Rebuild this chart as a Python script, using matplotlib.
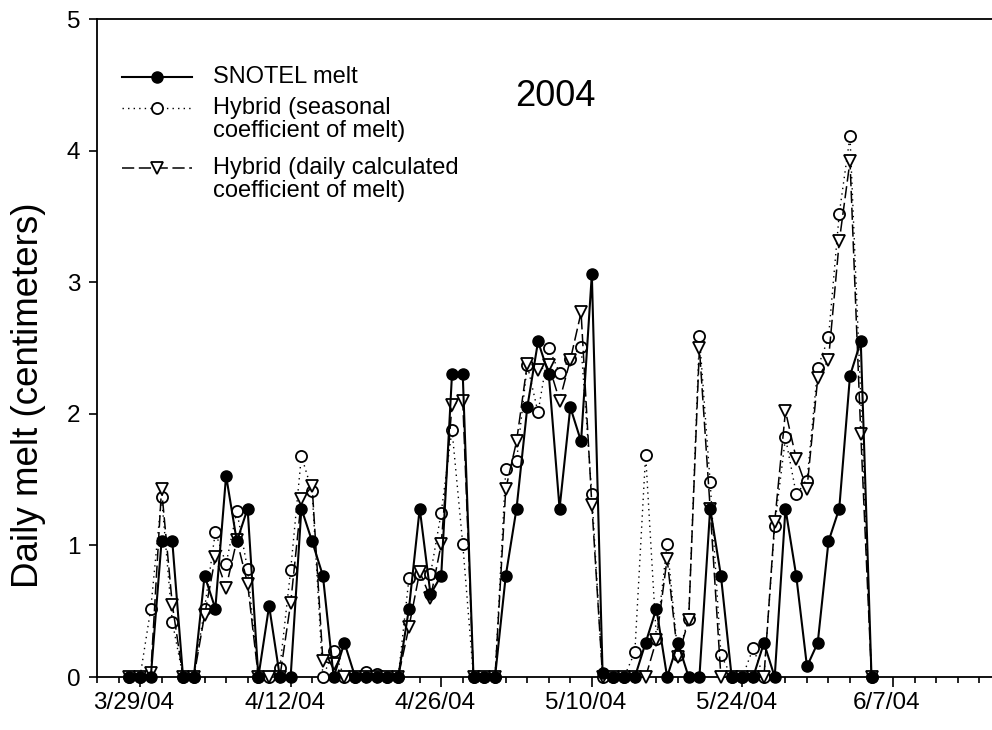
import matplotlib
matplotlib.use('Agg')
import matplotlib.pyplot as plt
import matplotlib.dates as mdates
import matplotlib.transforms as mtransforms
import numpy as np
from matplotlib.lines import Line2D

plt.rcParams['font.family'] = ['Liberation Sans', 'DejaVu Sans']

# ---------------- data (daily values, starting 3/28/04) ----------------
start_date = '2004-03-28'
snotel = [0, 0, 0, 1.03, 1.03, 0, 0, 0.77, 0.52, 1.53,
          1.03, 1.28, 0, 0.54, 0, 0, 1.28, 1.03, 0.77, 0,
          0.26, 0, 0, 0, 0, 0, 0.52, 1.28, 0.63, 0.77,
          2.30, 2.30, 0, 0, 0, 0.77, 1.28, 2.05, 2.55, 2.30,
          1.28, 2.05, 1.79, 3.06, 0.03, 0, 0, 0, 0.26, 0.52,
          0, 0.26, 0, 0, 1.28, 0.77, 0, 0, 0, 0.26,
          0, 1.28, 0.77, 0.08, 0.26, 1.03, 1.28, 2.29, 2.55, 0]
seasonal = [0, 0, 0.52, 1.37, 0.42, 0, 0, 0.52, 1.10, 0.86,
            1.26, 0.82, 0, 0, 0.07, 0.81, 1.68, 1.41, 0, 0.20,
            0, 0, 0.04, 0.02, 0, 0, 0.75, 0.78, 0.78, 1.25,
            1.88, 1.01, 0, 0, 0, 1.58, 1.64, 2.37, 2.01, 2.50,
            2.31, 2.42, 2.51, 1.39, 0, 0, 0, 0.19, 1.69, 0.29,
            1.01, 0.17, 0.44, 2.59, 1.48, 0.17, 0, 0, 0.22, 0,
            1.15, 1.82, 1.39, 1.49, 2.35, 2.58, 3.52, 4.11, 2.13, 0]
daily = [0, 0, 0.03, 1.43, 0.55, 0, 0, 0.47, 0.91, 0.68,
         1.04, 0.71, 0, 0, 0, 0.56, 1.35, 1.45, 0.12, 0.10,
         0, 0, 0, 0, 0, 0, 0.38, 0.80, 0.60, 1.01,
         2.07, 2.10, 0, 0, 0, 1.43, 1.79, 2.38, 2.33, 2.37,
         2.10, 2.41, 2.77, 1.31, 0, 0, 0, 0, 0, 0.28,
         0.90, 0.15, 0.43, 2.50, 1.28, 0, 0, 0, 0, 0,
         1.18, 2.02, 1.66, 1.43, 2.27, 2.41, 3.31, 3.92, 1.85, 0]

tick_dates = ['2004-03-29', '2004-04-12', '2004-04-26', '2004-05-10', '2004-05-24', '2004-06-07']
tick_labels = ['3/29/04', '4/12/04', '4/26/04', '5/10/04', '5/24/04', '6/7/04']
y_ticks = [0, 1, 2, 3, 4, 5]

series_labels = [['SNOTEL melt'],
                 ['Hybrid (seasonal', 'coefficient of melt)'],
                 ['Hybrid (daily calculated', 'coefficient of melt)']]
year_label = '2004'

dates = np.datetime64(start_date) + np.arange(len(snotel))

# ---------------- figure ----------------
W, H = 992, 730
fig = plt.figure(figsize=(W / 100, H / 100), dpi=100)
ax_l, ax_r, ax_t, ax_b = 97, 992, 19, 677
ax = fig.add_axes([ax_l / W, (H - ax_b) / H, (ax_r - ax_l) / W, (ax_b - ax_t) / H])

style_s = dict(color='black', lw=1.5, linestyle='-', marker='o', ms=8.0,
               mfc='black', mec='black', mew=1.0)
style_c = dict(color='black', lw=1.0, linestyle=(0, (1, 3)), marker='o', ms=8.0,
               mfc='white', mec='black', mew=1.3)
style_t = dict(color='black', lw=1.1, linestyle=(0, (8, 3)), marker='v', ms=8.7,
               mfc='white', mec='black', mew=1.3)

ax.plot(dates, seasonal, zorder=3, clip_on=False, **style_c)
ax.plot(dates, daily, zorder=4, clip_on=False, **style_t)
ax.plot(dates, snotel, zorder=5, clip_on=False, **style_s)

x0 = mdates.date2num(np.datetime64('2004-03-25'))
ax.set_xlim(x0, x0 + 83.2)
ax.set_ylim(0, 5)

ax.set_xticks([mdates.date2num(np.datetime64(d)) for d in tick_dates])
ax.set_xticklabels(tick_labels)
ax.set_xticks(np.arange(x0, x0 + 84, 2), minor=True)
ax.set_yticks(y_ticks)
ax.set_yticklabels([str(v) for v in y_ticks])

ax.spines['right'].set_visible(False)
for s in ['left', 'bottom', 'top']:
    ax.spines[s].set_linewidth(1.3)

ax.tick_params(axis='x', which='major', direction='out', length=7, width=1.2,
               labelsize=17.5, pad=4)
ax.tick_params(axis='x', which='minor', direction='out', length=4.5, width=1.2)
ax.tick_params(axis='y', which='major', direction='out', length=6, width=1.2,
               labelsize=17.5, pad=6)

ax.set_ylabel('Daily melt (centimeters)', fontsize=26.5)
ax.yaxis.set_label_coords((46 - ax_l) / (ax_r - ax_l), (ax_b - 395) / (ax_b - ax_t))

def fx(px):
    return (px - ax_l) / (ax_r - ax_l)

def fy(py):
    return (ax_b - py) / (ax_b - ax_t)

ax.text(fx(555), fy(97), year_label, transform=ax.transAxes, fontsize=26,
        ha='center', va='center')

# ---------------- legend (handles aligned with first text line) ----------------
leg_rows = [77, 108, 168]
line_step = 23.5
for (style, row, lines) in zip([style_s, style_c, style_t], leg_rows, series_labels):
    ls = style['linestyle']
    ax.add_line(Line2D([fx(122), fx(192)], [fy(row), fy(row)], transform=ax.transAxes,
                       color='black', lw=style['lw'], linestyle=ls, clip_on=False))
    ax.add_line(Line2D([fx(157)], [fy(row)], transform=ax.transAxes, linestyle='none',
                       marker=style['marker'], ms=style['ms'], mfc=style['mfc'],
                       mec=style['mec'], mew=style['mew'], clip_on=False, zorder=6))
    for i, txt in enumerate(lines):
        ax.text(fx(213), fy(row + i * line_step), txt, transform=ax.transAxes,
                fontsize=17, ha='left', va='center')

# tick labels in the reference sit slightly left of their ticks
shift = mtransforms.ScaledTranslation(-6 / 100, 0, fig.dpi_scale_trans)
for lbl in ax.get_xticklabels():
    lbl.set_transform(lbl.get_transform() + shift)

fig.savefig('out.png', dpi=100)
